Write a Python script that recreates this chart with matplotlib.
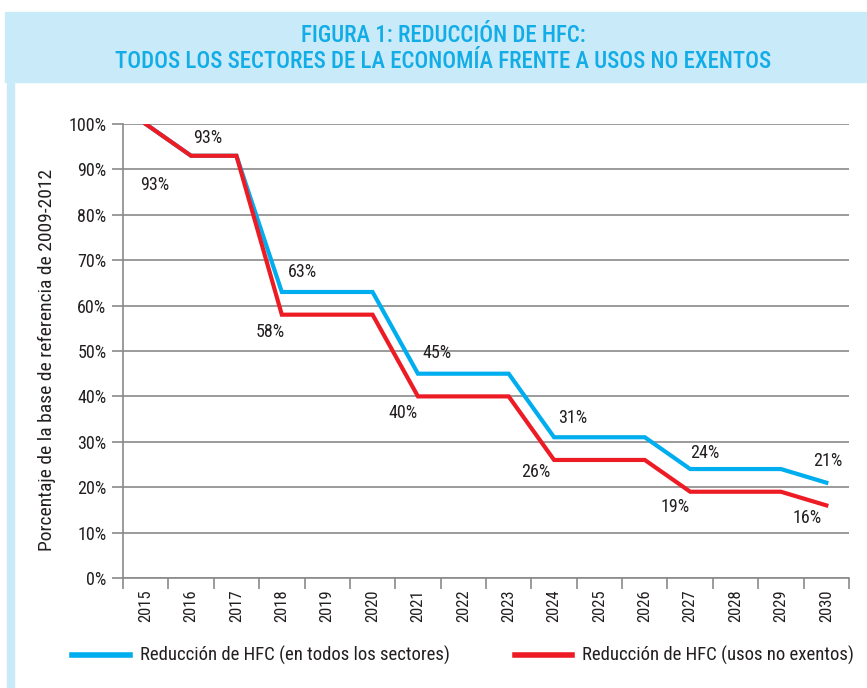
import numpy as np
import matplotlib
matplotlib.use('Agg')
import matplotlib.pyplot as plt
from matplotlib.patches import Rectangle

plt.rcParams['font.family'] = ['Roboto Condensed', 'DejaVu Sans']

#data
years = [str(y) for y in range(2015, 2031)]
hfc_all = [100, 93, 93, 63, 63, 63, 45, 45, 45, 31, 31, 31, 24, 24, 24, 21]
hfc_no_ex = [100, 93, 93, 58, 58, 58, 40, 40, 40, 26, 26, 26, 19, 19, 19, 16]

label_idx = [1, 3, 6, 9, 12, 15]
#label offsets in pixels (layout only)
off_all = [(17, 18), (21, 20), (19, 21), (19, 19), (15, 16), (1, 22)]
off_no_ex = [(-36, -29), (-12, -17), (-15, -17), (-18, -12), (-15, -15), (-19, -13)]

c_blue = '#00aeef'
c_red = '#ed1c24'
c_band = '#c8eaf9'
c_grid = '#8a8a8a'
c_text = '#231f20'

fig = plt.figure(figsize=(8.67, 6.88), dpi=100)

#title band and left strip
fig.patches.append(Rectangle((5/867, 1-82/688), 1, 70/688, transform=fig.transFigure,
                             color=c_band, zorder=0))
fig.patches.append(Rectangle((7/867, 0), 7/867, 1-82/688, transform=fig.transFigure,
                             color=c_band, zorder=0))
fig.text(0.511, 1-35/688, 'FIGURA 1: REDUCCIÓN DE HFC:', ha='center', va='center',
         color='#12ace6', fontsize=16.5, fontweight='medium')
fig.text(0.511, 1-62/688, 'TODOS LOS SECTORES DE LA ECONOMÍA FRENTE A USOS NO EXENTOS',
         ha='center', va='center', color='#12ace6', fontsize=16.5, fontweight='medium')

ax = fig.add_axes([123/867, 1-578/688, (849-123)/867, (578-124)/688])

x = np.arange(len(years))
ax.plot(x, hfc_all, color=c_blue, lw=3, solid_joinstyle='miter', zorder=3)
ax.plot(x, hfc_no_ex, color=c_red, lw=3, solid_joinstyle='miter', zorder=4)

for k, i in enumerate(label_idx):
    ax.annotate('%d%%' % hfc_all[i], xy=(x[i], hfc_all[i]), xytext=off_all[k],
                textcoords='offset pixels', ha='center', va='center', fontsize=13, color=c_text)
    ax.annotate('%d%%' % hfc_no_ex[i], xy=(x[i], hfc_no_ex[i]), xytext=off_no_ex[k],
                textcoords='offset pixels', ha='center', va='center', fontsize=13, color=c_text)

ax.set_xlim(-0.5, len(years) - 0.5)
ax.set_ylim(0, 100)
ax.set_yticks(np.arange(0, 101, 10))
ax.set_yticklabels(['%d%%' % v for v in range(0, 101, 10)], fontsize=13, color=c_text)

ax.set_xticks(np.arange(len(years) + 1) - 0.5)
ax.set_xticklabels([])
ax.set_xticks(x, labels=years, minor=True)
ax.tick_params(axis='x', which='minor', length=0, labelsize=12, labelrotation=90, pad=8,
               labelcolor=c_text)
ax.tick_params(axis='x', which='major', length=8, color=c_grid, width=1.2)
ax.tick_params(axis='y', length=8, color=c_grid, width=1.2, pad=4)

ax.grid(axis='y', color=c_grid, lw=1.2)
ax.set_axisbelow(True)
for s in ['top', 'right']:
    ax.spines[s].set_visible(False)
for s in ['left', 'bottom']:
    ax.spines[s].set_color(c_grid)
    ax.spines[s].set_linewidth(1.2)

fig.text(47/867, 1-360/688, 'Porcentaje de la base de referencia de 2009-2012',
         rotation=90, ha='center', va='center', fontsize=14, color=c_text)

#legend drawn manually
fig.lines.append(plt.Line2D([72/867, 130/867], [1-655/688]*2, transform=fig.transFigure,
                            color=c_blue, lw=4))
fig.text(140/867, 1-655/688, 'Reducción de HFC (en todos los sectores)', va='center',
         fontsize=13.5, color=c_text)
fig.lines.append(plt.Line2D([515/867, 572/867], [1-655/688]*2, transform=fig.transFigure,
                            color=c_red, lw=4))
fig.text(582/867, 1-655/688, 'Reducción de HFC (usos no exentos)', va='center',
         fontsize=13.5, color=c_text)

fig.savefig('out.png', dpi=100)
